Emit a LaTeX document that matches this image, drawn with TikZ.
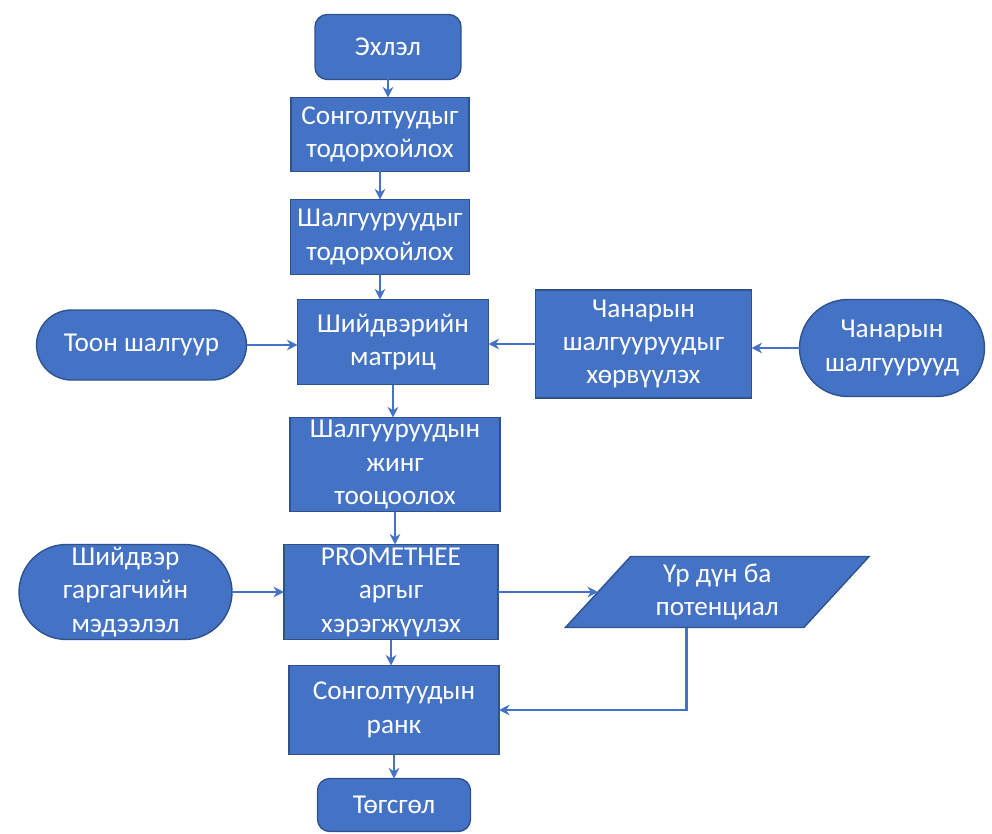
\documentclass[tikz,border=0pt]{standalone}
\usepackage{fontspec}
\setmainfont{Carlito}
\usepackage{tikz}
\usetikzlibrary{arrows.meta,positioning,shapes.geometric,shapes.misc}
\definecolor{boxblue}{HTML}{4472C4}
\definecolor{edgeblue}{HTML}{2F528F}

\begin{document}
\begin{tikzpicture}[
 font=\fontsize{15.5}{19}\selectfont, node distance=0pt,
 >={Stealth[length=6pt,width=6pt]},
 proc/.style={rectangle, draw=edgeblue, line width=0.8pt, fill=boxblue,
 text=white, align=center, inner xsep=2pt, inner ysep=0pt, outer sep=0pt},
 term/.style={proc, rounded corners=7pt},
 src/.style={proc, rounded rectangle},
 io/.style={proc, trapezium, trapezium left angle=49, trapezium right angle=131,
 trapezium stretches=true},
 flow/.style={->, line width=1.6pt, draw=boxblue},
]
\useasboundingbox (0,0) rectangle (19.84,-16.66);
\node[term, minimum width=2.92cm, minimum height=1.3cm] (start) at (7.76,-0.94) {Эхлэл};
\node[proc, minimum width=3.56cm, minimum height=1.48cm, below=0.36cm of start, xshift=-0.16cm] (opt) {Сонголтуудыг\\тодорхойлох};
\node[proc, minimum width=3.58cm, minimum height=1.5cm, below=0.56cm of opt] (crit) {Шалгууруудыг\\тодорхойлох};
\node[proc, minimum width=3.82cm, minimum height=1.7cm, below=0.5cm of crit, xshift=0.26cm] (mat) {Шийдвэрийн\\матриц};
\node[proc, minimum width=4.2cm, minimum height=1.88cm, below=0.66cm of mat, xshift=0.04cm] (wgt) {Шалгууруудын\\жинг\\тооцоолох};
\node[proc, minimum width=4.28cm, minimum height=1.9cm, below=0.66cm of wgt, xshift=-0.08cm] (prom) {PROMETHEE\\аргыг\\хэрэгжүүлэх};
\node[proc, minimum width=4.2cm, minimum height=1.78cm, below=0.52cm of prom, xshift=0.06cm] (rank) {Сонголтуудын\\ранк};
\node[term, minimum width=3.06cm, minimum height=1.06cm, below=0.48cm of rank] (stop) {Төгсгөл};
\node[src, minimum width=4.34cm, minimum height=1.4cm, left=1.02cm of mat, yshift=-0.06cm] (num) {Тоон шалгуур};
\node[proc, minimum width=4.32cm, minimum height=2.16cm, right=0.94cm of mat, yshift=-0.04cm] (conv) {Чанарын\\шалгууруудыг\\хөрвүүлэх};
\node[src, minimum width=3.84cm, minimum height=1.94cm, right=0.96cm of conv, yshift=-0.08cm] (qual) {Чанарын\\шалгуурууд};
\node[src, minimum width=4.4cm, minimum height=1.9cm, left=1.04cm of prom] (dm) {Шийдвэр\\гаргагчийн\\мэдээлэл};
\node[io, minimum width=6.08cm, minimum height=1.42cm, right=2cm of prom] (res) {Үр дүн ба\\потенциал};
\draw[flow] (start.south) -- (start.south |- opt.north);
\draw[flow] (opt.south) -- (opt.south |- crit.north);
\draw[flow] (crit.south) -- (crit.south |- mat.north);
\draw[flow] (mat.south) -- (mat.south |- wgt.north);
\draw[flow] (wgt.south) -- (wgt.south |- prom.north);
\draw[flow] (prom.south) -- (prom.south |- rank.north);
\draw[flow] (rank.south) -- (rank.south |- stop.north);
\draw[flow] (num.east) -- (num.east -| mat.west);
\draw[flow] (conv.west) -- (conv.west -| mat.east);
\draw[flow] (qual.west) -- (qual.west -| conv.east);
\draw[flow] (dm.east) -- (dm.east -| prom.west);
\draw[flow] (prom.east) -- (res.west);
\draw[flow] ([xshift=-0.62cm]res.south) |- (rank.east);
\end{tikzpicture}
\end{document}
